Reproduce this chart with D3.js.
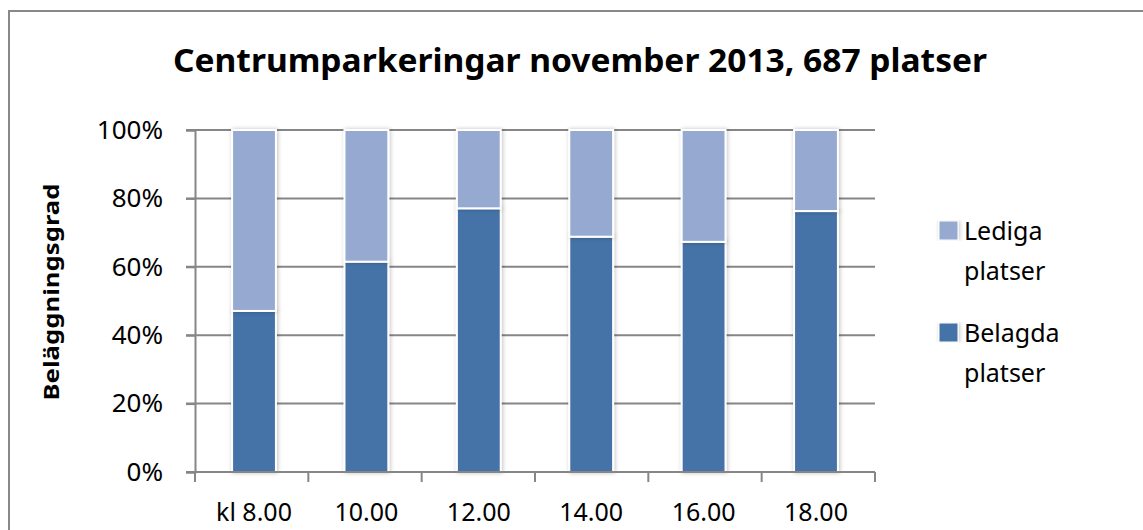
<!DOCTYPE html>
<html>
<head>
<meta charset="utf-8">
<script src="https://cdn.jsdelivr.net/npm/d3@7"></script>
<style>
  html, body { margin: 0; padding: 0; background: #fff; }
  svg { display: block; font-family: "Noto Sans", "Open Sans", sans-serif; }
</style>
</head>
<body>
<div id="chart"></div>
<script>
const categories = ["kl 8.00", "10.00", "12.00", "14.00", "16.00", "18.00"]
const belagda = [0.471, 0.615, 0.771, 0.688, 0.673, 0.763]
const lediga = belagda.map(v => 1 - v)
const seriesNames = ["Belagda platser", "Lediga platser"]
const yTicks = [0, 0.2, 0.4, 0.6, 0.8, 1]

const width = 1143, height = 530
const margin = { top: 130, left: 195, right: 268, bottom: 58 }
const colors = { belagda: "#4572A7", lediga: "#95A9D1" }

const svg = d3.select("#chart").append("svg")
  .attr("width", width).attr("height", height)

const defs = svg.append("defs")
const f = defs.append("filter").attr("id", "shadow").attr("x", "-30%").attr("y", "-5%").attr("width", "160%").attr("height", "110%")
f.append("feDropShadow").attr("dx", 1).attr("dy", 0).attr("stdDeviation", 2).attr("flood-color", "#000").attr("flood-opacity", 0.25)

// outer frame
svg.append("rect")
  .attr("x", 9).attr("y", 11).attr("width", width).attr("height", height)
  .attr("fill", "#fff").attr("stroke", "#888").attr("stroke-width", 2)

const x = d3.scaleBand().domain(categories)
  .range([margin.left, width - margin.right])
  .paddingInner(0.61).paddingOuter(0.33)
const y = d3.scaleLinear().domain([0, 1]).range([height - margin.bottom, margin.top])

const xr = x.range()

// gridlines
svg.append("g").selectAll("line").data(yTicks).join("line")
  .attr("x1", xr[0] - 9).attr("x2", xr[1])
  .attr("y1", d => y(d)).attr("y2", d => y(d))
  .attr("stroke", "#868686").attr("stroke-width", 2)

// y axis
const yAxis = svg.append("g")
  .attr("transform", `translate(${xr[0]},0)`)
  .call(d3.axisLeft(y).tickValues(yTicks).tickFormat(d3.format(".0%")).tickSize(9))
yAxis.select(".domain").attr("stroke", "#868686").attr("stroke-width", 2)
yAxis.selectAll(".tick line").attr("stroke", "#868686").attr("stroke-width", 2)
yAxis.selectAll(".tick text")
  .attr("x", -32).attr("font-size", 26).attr("fill", "#000").attr("font-family", "Noto Sans")

// bars
const stackData = categories.map((c, i) => ({ cat: c, belagda: belagda[i], lediga: lediga[i] }))
const stack = d3.stack().keys(["belagda", "lediga"])(stackData)

svg.append("g").selectAll("g").data(stack).join("g")
  .attr("fill", d => colors[d.key])
  .selectAll("rect").data(d => d).join("rect")
  .attr("x", d => x(d.data.cat))
  .attr("width", x.bandwidth())
  .attr("y", d => y(d[1]))
  .attr("height", d => y(d[0]) - y(d[1]))
  .attr("stroke", "#fff").attr("stroke-width", 2)
  .attr("filter", "url(#shadow)")

// x axis
const xStep = (xr[1] - xr[0]) / categories.length
const xBase = svg.append("g")
svg.append("line")
  .attr("x1", xr[0]).attr("x2", xr[1])
  .attr("y1", y(0)).attr("y2", y(0))
  .attr("stroke", "#868686").attr("stroke-width", 2)
xBase.selectAll("line").data(d3.range(categories.length + 1)).join("line")
  .attr("x1", d => xr[0] + d * xStep).attr("x2", d => xr[0] + d * xStep)
  .attr("y1", y(0)).attr("y2", y(0) + 10)
  .attr("stroke", "#868686").attr("stroke-width", 2)
svg.append("g").selectAll("text").data(categories).join("text")
  .attr("x", d => x(d) + x.bandwidth() / 2)
  .attr("y", 521)
  .attr("text-anchor", "middle")
  .attr("font-size", 25)
  .text(d => d)

// title
svg.append("text")
  .attr("x", 580).attr("y", 72)
  .attr("text-anchor", "middle")
  .attr("font-size", 32).attr("font-weight", "bold")
  .attr("textLength", 814).attr("lengthAdjust", "spacingAndGlyphs")
  .text("Centrumparkeringar november 2013, 687 platser")

// y title
svg.append("text")
  .attr("transform", `translate(59,292) rotate(-90)`)
  .attr("text-anchor", "middle")
  .attr("font-size", 22).attr("font-weight", "bold")
  .attr("textLength", 217).attr("lengthAdjust", "spacingAndGlyphs")
  .text("Beläggningsgrad")

// legend
const legendItems = [
  { key: "lediga", lines: ["Lediga", "platser"], y: 231 },
  { key: "belagda", lines: ["Belagda", "platser"], y: 333 }
]
const lg = svg.append("g").selectAll("g").data(legendItems).join("g")
lg.append("rect")
  .attr("x", 939).attr("y", d => d.y - 10)
  .attr("width", 19).attr("height", 19)
  .attr("fill", d => colors[d.key])
  .attr("stroke", "#fff").attr("stroke-width", 1)
  .attr("filter", "url(#shadow)")
lg.selectAll("text").data(d => d.lines.map((t, i) => ({ t, y: d.y + i * 40 }))).join("text")
  .attr("x", 964).attr("y", d => d.y + 9)
  .attr("font-size", 25)
  .text(d => d.t)
</script>
</body>
</html>
